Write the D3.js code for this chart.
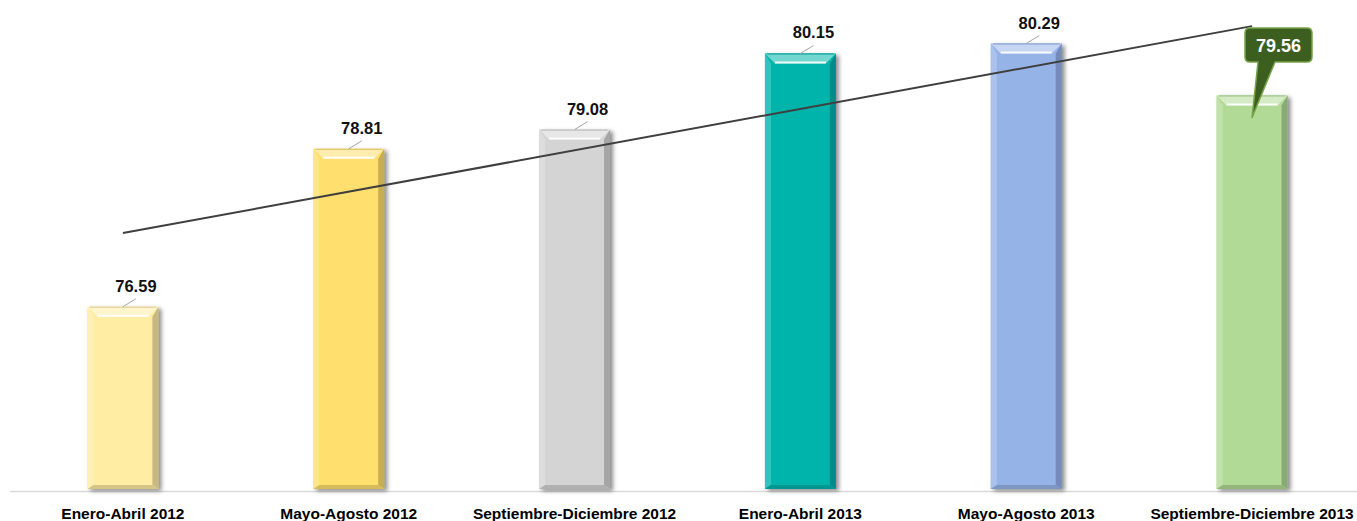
<!DOCTYPE html>
<html>
<head>
<meta charset="utf-8">
<script src="https://cdn.jsdelivr.net/npm/d3@7"></script>
<style>
  html, body { margin: 0; padding: 0; background: #ffffff; }
  svg { display: block; }
</style>
</head>
<body>
<svg id="chart" width="1357" height="521"></svg>
<script>
// ---- data ----
const categories = ["Enero-Abril 2012", "Mayo-Agosto 2012", "Septiembre-Diciembre 2012",
                    "Enero-Abril 2013", "Mayo-Agosto 2013", "Septiembre-Diciembre 2013"];
const values = [76.59, 78.81, 79.08, 80.15, 80.29, 79.56];
const valueLabels = ["76.59", "78.81", "79.08", "80.15", "80.29", "79.56"];
const yDomain = [74, 81];

// ---- styles ----
const barColors = ["#FFEDA3", "#FFDF6E", "#D4D4D4", "#00B4AC", "#96B3E8", "#B1DA96"];
const FONT = "'Liberation Sans', Arial, sans-serif";

const W = 1357, H = 521;
const svg = d3.select("#chart");

const x = d3.scaleBand().domain(categories).range([10, 1365]).paddingInner(0.686).paddingOuter(0.343);
const y = d3.scaleLinear().domain(yDomain).range([491, -7]);

const defs = svg.append("defs");
const f = defs.append("filter").attr("id", "shadow").attr("x", "-20%").attr("y", "-5%").attr("width", "150%").attr("height", "115%");
f.append("feGaussianBlur").attr("stdDeviation", 2);

// baseline
svg.append("line").attr("x1", 10).attr("x2", W).attr("y1", 491.5).attr("y2", 491.5)
  .attr("stroke", "#D9D9D9").attr("stroke-width", 1.5);

// bars
const bars = svg.append("g").selectAll("g").data(values).join("g");
bars.each(function(v, i) {
  const g = d3.select(this);
  const x0 = x(categories[i]), w = x.bandwidth();
  const y0 = y(v), y1 = y(yDomain[0]) - 2;
  const h = y1 - y0;
  const c = d3.color(barColors[i]);
  const b = 10;
  // shadow
  g.append("rect").attr("x", x0 + 3).attr("y", y0 + 2).attr("width", w).attr("height", h)
    .attr("fill", "rgba(0,0,0,0.45)").attr("filter", "url(#shadow)");
  // body
  g.append("rect").attr("x", x0).attr("y", y0).attr("width", w).attr("height", h).attr("fill", c);
  const poly = pts => pts.map(p => p.join(",")).join(" ");
  // top bevel
  g.append("polygon").attr("points", poly([[x0, y0], [x0 + w, y0], [x0 + w - b, y0 + b], [x0 + b, y0 + b]]))
    .attr("fill", d3.interpolateRgb(c, "#ffffff")(0.45));
  // left bevel
  g.append("polygon").attr("points", poly([[x0, y0], [x0 + b * 0.6, y0 + b], [x0 + b * 0.6, y1 - 4], [x0, y1]]))
    .attr("fill", d3.interpolateRgb(c, "#ffffff")(0.2));
  // right bevel
  g.append("polygon").attr("points", poly([[x0 + w, y0], [x0 + w - b * 0.6, y0 + b], [x0 + w - b * 0.6, y1 - 4], [x0 + w, y1]]))
    .attr("fill", c.darker(0.7));
  // bottom bevel
  g.append("polygon").attr("points", poly([[x0, y1], [x0 + b * 0.6, y1 - 4], [x0 + w - b * 0.6, y1 - 4], [x0 + w, y1]]))
    .attr("fill", c.darker(0.5));
  // highlight line on top bevel
  g.append("line").attr("x1", x0 + b).attr("x2", x0 + w - b).attr("y1", y0 + b - 1).attr("y2", y0 + b - 1)
    .attr("stroke", "#ffffff").attr("stroke-opacity", 0.9).attr("stroke-width", 2);
  g.append("line").attr("x1", x0 + 2).attr("x2", x0 + w - 2).attr("y1", y0 + 0.5).attr("y2", y0 + 0.5)
    .attr("stroke", c.darker(0.4)).attr("stroke-width", 1);
});

// trend line (least squares on category index)
const n = values.length;
const xs = d3.range(1, n + 1);
const mx = d3.mean(xs), my = d3.mean(values);
const slope = d3.sum(xs, (xi, i) => (xi - mx) * (values[i] - my)) / d3.sum(xs, xi => (xi - mx) ** 2);
const icpt = my - slope * mx;
const cx = i => x(categories[i]) + x.bandwidth() / 2;
svg.append("line")
  .attr("x1", cx(0)).attr("y1", y(icpt + slope * 1))
  .attr("x2", cx(n - 1)).attr("y2", y(icpt + slope * n))
  .attr("stroke", "#3F3F3F").attr("stroke-width", 2);

// value labels (all but last)
const lbl = svg.append("g");
values.forEach((v, i) => {
  if (i === n - 1) return;
  const bx = cx(i), top = y(v);
  const lx = bx + 13, ly = top - 15;
  if (top - ly > 10) {
    lbl.append("line").attr("x1", lx).attr("y1", ly + 7).attr("x2", bx).attr("y2", top)
      .attr("stroke", "#A6A6A6").attr("stroke-width", 1);
  }
  lbl.append("text").attr("x", lx).attr("y", ly).attr("text-anchor", "middle")
    .attr("font-family", FONT).attr("font-weight", "bold").attr("font-size", 16.5)
    .attr("fill", "#111111").text(valueLabels[i]);
});

// callout for last value
{
  const i = n - 1;
  const bx = cx(i), top = y(values[i]);
  const bxL = 1245, bxR = 1312, byT = 28, byB = 62, r = 5;
  const tip = [bx, top + 22];
  const path = d3.path();
  path.moveTo(bxL + r, byT);
  path.lineTo(bxR - r, byT);
  path.quadraticCurveTo(bxR, byT, bxR, byT + r);
  path.lineTo(bxR, byB - r);
  path.quadraticCurveTo(bxR, byB, bxR - r, byB);
  path.lineTo(1275, byB);
  path.lineTo(tip[0], tip[1]);
  path.lineTo(1258, byB);
  path.lineTo(bxL + r, byB);
  path.quadraticCurveTo(bxL, byB, bxL, byB - r);
  path.lineTo(bxL, byT + r);
  path.quadraticCurveTo(bxL, byT, bxL + r, byT);
  path.closePath();
  svg.append("path").attr("d", path.toString()).attr("fill", "#3C5F20")
    .attr("stroke", "#76A34A").attr("stroke-width", 1.5).attr("stroke-linejoin", "round");
  svg.append("text").attr("x", (bxL + bxR) / 2).attr("y", 52).attr("text-anchor", "middle")
    .attr("font-family", FONT).attr("font-weight", "bold").attr("font-size", 18)
    .attr("fill", "#ffffff").text(valueLabels[i]);
}

// category labels
svg.append("g").selectAll("text").data(categories).join("text")
  .attr("x", d => x(d) + x.bandwidth() / 2).attr("y", 519)
  .attr("text-anchor", "middle").attr("font-family", FONT).attr("font-weight", "bold")
  .attr("font-size", 15.5).attr("fill", "#000000").text(d => d);
</script>
</body>
</html>
